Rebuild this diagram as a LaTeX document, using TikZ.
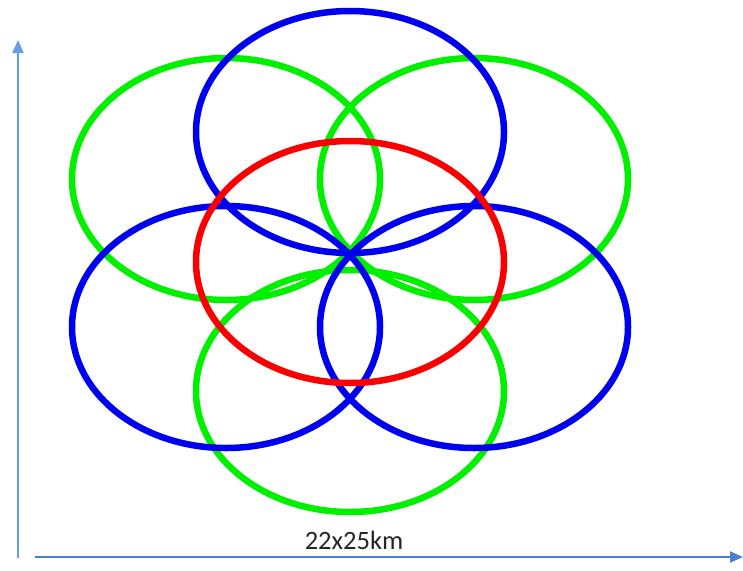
\documentclass[tikz,border=0pt]{standalone}
\usepackage{fontspec}
\setmainfont{Carlito}
\usetikzlibrary{arrows.meta}
\definecolor{ringblue}{RGB}{0,0,240}
\definecolor{ringgreen}{RGB}{0,240,0}
\definecolor{ringred}{RGB}{250,0,0}
\definecolor{axisv}{RGB}{100,160,225}
\definecolor{axish}{RGB}{75,125,210}
\tikzset{
  ring/.style={line width=6.5pt},
  axisline/.style={line width=2pt,-{Triangle[length=13pt,width=11pt]}},
}
\begin{document}
\begin{tikzpicture}[x=1pt,y=-1pt]
\useasboundingbox (0,0) rectangle (743,570);
% greens
\draw[ring,ringgreen] (226,179) ellipse [x radius=154,y radius=121];
\draw[ring,ringgreen] (474,179) ellipse [x radius=154,y radius=121];
\draw[ring,ringgreen] (350,391) ellipse [x radius=154,y radius=121];
% blues
\draw[ring,ringblue] (350,132) ellipse [x radius=154,y radius=121];
\draw[ring,ringblue] (226,327) ellipse [x radius=154,y radius=121];
\draw[ring,ringblue] (474,327) ellipse [x radius=154,y radius=121];
% red
\draw[ring,ringred] (350,262) ellipse [x radius=154,y radius=121];
% axes
\coordinate (vb) at (18,558);
\coordinate (vt) at (18,40);
\coordinate (hl) at (35,557);
\coordinate (hr) at (743,557);
\draw[axisline,axisv] (vb) -- (vt);
\draw[axisline,axish] (hl) -- (hr);
\node[font=\fontsize{26.5}{30}\selectfont,text=black!85] (lab) at (354,540) {22x25km};
\end{tikzpicture}
\end{document}
